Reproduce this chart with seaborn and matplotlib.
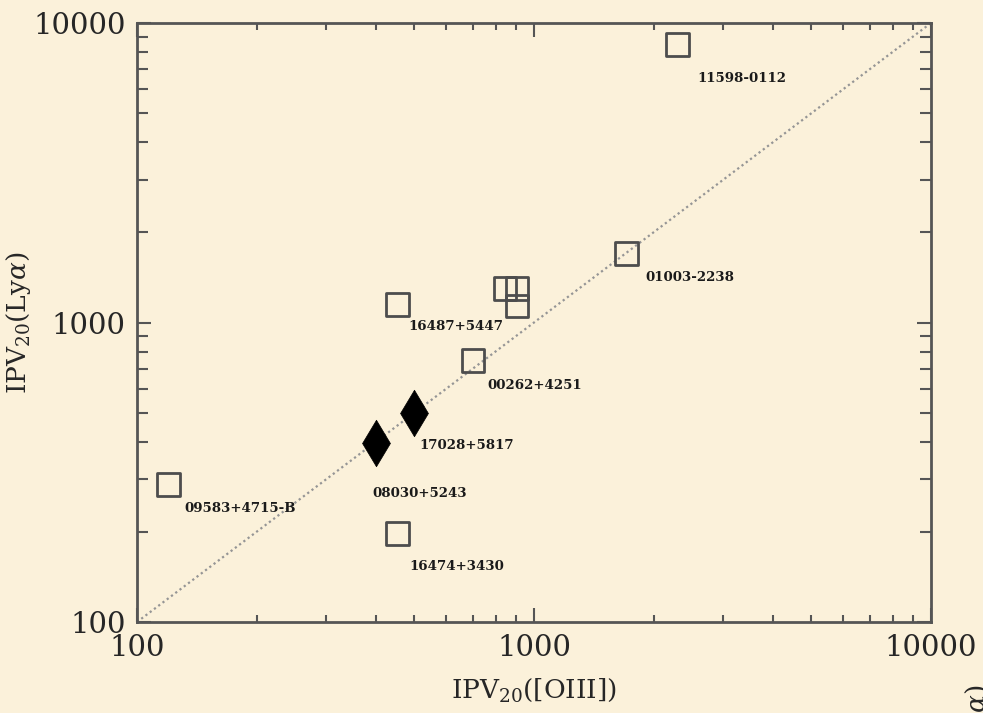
import numpy as np
import pandas as pd
import seaborn as sns
import matplotlib.pyplot as plt
from matplotlib.ticker import LogLocator, NullFormatter, FixedLocator, FixedFormatter

# Objects: IPV20 measured in [OIII] vs Lya (km/s)
names = ["11598-0112", "01003-2238", "16487+5447", "", "", "",
         "00262+4251", "17028+5817", "08030+5243", "16474+3430", "09583+4715-B"]
ipv_oiii = [2300, 1710, 452, 845, 906, 906, 702, 500, 400, 452, 120]
ipv_lya = [8450, 1700, 1145, 1295, 1295, 1135, 745, 500, 397, 198, 287]
kind = ["square", "square", "square", "square", "square", "square",
        "square", "diamond", "diamond", "square", "square"]

# label offsets in pixels from the marker (right, down)
label_dx = [20, 19, 11, 0, 0, 0, 14, 5, -4, 12, 16]
label_dy = [34, 24, 22, 0, 0, 0, 25, 33, 51, 33, 24]

df = pd.DataFrame({"name": names, "oiii": ipv_oiii, "lya": ipv_lya, "kind": kind})

bg = "#fbf1da"
sns.set_theme(style="ticks")
plt.rcParams["font.family"] = ["DejaVu Serif", "DejaVu Sans"]
plt.rcParams["mathtext.fontset"] = "dejavuserif"

fig = plt.figure(figsize=(9.83, 7.13), dpi=100, facecolor=bg)
ax = fig.add_axes([137 / 983, 1 - 622 / 713, (931 - 137) / 983, (622 - 23) / 713])
ax.set_facecolor(bg)

ax.set_xscale("log")
ax.set_yscale("log")
ax.set_xlim(100, 10000)
ax.set_ylim(100, 10000)

# one-to-one line
ax.plot([100, 10000], [100, 10000], ls=(0, (1, 1.4)), color="#959595", lw=1.6, zorder=1)

sq = df[df["kind"] == "square"]
dm = df[df["kind"] == "diamond"]
sns.scatterplot(data=sq, x="oiii", y="lya", marker="s", s=270, facecolor="none",
                edgecolor="#4d4d4d", linewidth=2.0, ax=ax, zorder=3, legend=False)
sns.scatterplot(data=dm, x="oiii", y="lya", marker="d", s=560, color="black",
                edgecolor="black", linewidth=0.5, ax=ax, zorder=3, legend=False)

for n, x, y, dx, dy in zip(names, ipv_oiii, ipv_lya, label_dx, label_dy):
    if n:
        ax.annotate(n, (x, y), xytext=(dx, -dy), textcoords="offset pixels",
                    ha="left", va="center", fontsize=9.6, fontweight="bold",
                    color="#1a1a1a")

# ticks
for axis in (ax.xaxis, ax.yaxis):
    axis.set_major_locator(FixedLocator([100, 1000, 10000]))
    axis.set_major_formatter(FixedFormatter(["100", "1000", "10000"]))
    axis.set_minor_locator(LogLocator(base=10, subs=np.arange(2, 10)))
    axis.set_minor_formatter(NullFormatter())
ax.tick_params(which="both", direction="in", top=True, right=True, color="#555555")
ax.tick_params(which="major", length=10, width=1.5, labelsize=21)
ax.tick_params(axis="x", which="major", pad=9)
ax.tick_params(axis="y", which="major", pad=8)
ax.tick_params(axis="x", which="minor", length=5, width=1.5)
ax.tick_params(axis="y", which="minor", length=8, width=1.5)
for s in ax.spines.values():
    s.set_linewidth(2)
    s.set_color("#555555")

ax.set_xlabel(r"IPV$_{20}$([OIII])", fontsize=19, labelpad=10)
ax.set_ylabel(r"IPV$_{20}$(Ly$\alpha$)", fontsize=19, labelpad=0)

# fragment of a neighbouring label at the lower right edge
fig.text(0.994, 0.040, r"IPV$_{20}$(Ly$\alpha$)", rotation=90, ha="center",
         va="top", fontsize=19)

fig.savefig("out.png", dpi=100, facecolor=bg)
